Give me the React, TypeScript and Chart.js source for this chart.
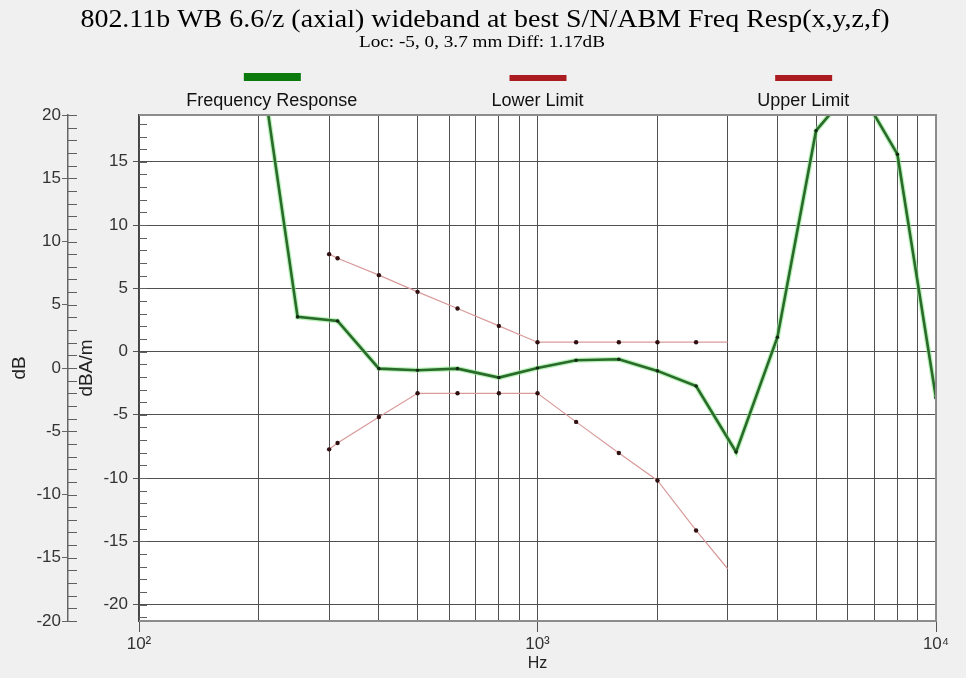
import { useEffect, useRef } from 'react';
import { Chart, registerables } from 'chart.js';

Chart.register(...registerables);

const TITLE = '802.11b WB 6.6/z (axial) wideband at best S/N/ABM Freq Resp(x,y,z,f)';
const SUBTITLE = 'Loc: -5, 0, 3.7 mm Diff: 1.17dB';
const SERIES_NAMES = ['Frequency Response', 'Lower Limit', 'Upper Limit'];
const SERIES_COLORS = ['#0b790b', '#ab1c22', '#ab1c22'];
const X_TITLE = 'Hz';
const Y_OUTER_TITLE = 'dB';
const Y_INNER_TITLE = 'dBA/m';

// Frequency response (dBA/m) at third-octave frequencies (Hz)
const responseFreqs = [200, 250, 315, 400, 500, 630, 800, 1000, 1250, 1600, 2000, 2500, 3150, 4000, 5000, 6300, 8000, 10000];
const responseValues = [23.8, 2.74, 2.42, -1.35, -1.48, -1.35, -2.06, -1.3, -0.69, -0.61, -1.53, -2.72, -7.94, 1.13, 17.46, 21.2, 15.6, -3.67];

// Limits (dBA/m)
const limitFreqs = [300, 315, 400, 500, 630, 800, 1000, 1250, 1600, 2000, 2500, 3000];
const lowerLimit = [-7.73, -7.23, -5.17, -3.3, -3.3, -3.3, -3.3, -5.56, -8.02, -10.19, -14.14, -17.17];
const upperLimit = [7.7, 7.38, 6.04, 4.72, 3.4, 2.03, 0.74, 0.74, 0.74, 0.74, 0.74, 0.74];

// Axes
const xGridTicks = [100, 200, 300, 400, 500, 600, 700, 800, 900, 1000, 2000, 3000, 4000, 5000, 6000, 7000, 8000, 9000, 10000];
const xMajorTicks = [100, 1000, 10000];
const xMajorLabels = ['10²', '10³', '10⁴'];
const X_MIN = 100;
const X_MAX = 10000;
const Y_OUTER_MIN = -20;
const Y_OUTER_MAX = 20;
const Y_INNER_MIN = -21.3;
const Y_INNER_MAX = 18.7;
const Y_MAJOR_STEP = 5;

const GRID = '#505050';
const SANS = '"Liberation Sans", Arial, sans-serif';
const SERIF = '"Liberation Serif", "Times New Roman", serif';
const TICK_FONT = { family: SANS, size: 17 };
const AXIS_TITLE_FONT = { family: SANS, size: 19 };

const toPoints = (xs: number[], ys: number[]) => xs.map((x, i) => ({ x, y: ys[i] }));

const intTicks = (min: number, max: number) => {
  const out: { value: number }[] = [];
  for (let v = Math.ceil(min); v <= Math.floor(max); v++) out.push({ value: v });
  return out;
};

const drawStretched = (ctx: CanvasRenderingContext2D, text: string, x: number, y: number, sx: number) => {
  ctx.save();
  ctx.translate(x, y);
  ctx.scale(sx, 1);
  ctx.fillText(text, 0, 0);
  ctx.restore();
};

const decorPlugin = {
  id: 'decor',
  beforeDraw(chart: any) {
    const { ctx, chartArea } = chart;
    ctx.save();
    ctx.fillStyle = '#ffffff';
    ctx.fillRect(chartArea.left, chartArea.top, chartArea.right - chartArea.left, chartArea.bottom - chartArea.top);
    ctx.restore();
  },
  afterDraw(chart: any) {
    const { ctx, chartArea } = chart;
    ctx.save();
    // titles
    ctx.fillStyle = '#000';
    ctx.textAlign = 'center';
    ctx.textBaseline = 'middle';
    ctx.font = '26px ' + SERIF;
    drawStretched(ctx, TITLE, 485, 20, 1.075);
    ctx.font = '16px ' + SERIF;
    drawStretched(ctx, SUBTITLE, 482, 43, 1.2);

    // legend: bar above text, evenly spaced thirds of the plot width
    const w = chartArea.right - chartArea.left;
    SERIES_NAMES.forEach((name, i) => {
      const x = chartArea.left + (w * (2 * i + 1)) / 6;
      ctx.fillStyle = SERIES_COLORS[i];
      if (i === 0) ctx.fillRect(x - 28, 73, 57, 8);
      else ctx.fillRect(x - 28, 75, 57, 6);
      ctx.fillStyle = '#111';
      ctx.font = '18px ' + SANS;
      ctx.fillText(name, x, 101);
    });

    // minor ticks
    ctx.strokeStyle = '#606060';
    ctx.lineWidth = 1;
    const yi = chart.scales.y;
    const yo = chart.scales.y2;
    ctx.beginPath();
    for (let v = Math.ceil(Y_INNER_MIN); v <= Math.floor(Y_INNER_MAX); v++) {
      const py = Math.round(yi.getPixelForValue(v)) + 0.5;
      ctx.moveTo(chartArea.left, py);
      ctx.lineTo(chartArea.left + 8, py);
    }
    for (let v = Y_OUTER_MIN; v <= Y_OUTER_MAX; v++) {
      const py = Math.round(yo.getPixelForValue(v)) + 0.5;
      ctx.moveTo(yo.right, py);
      ctx.lineTo(yo.right + 9, py);
    }
    ctx.stroke();

    // frame
    ctx.strokeStyle = '#8c8c8c';
    ctx.lineWidth = 2;
    ctx.beginPath();
    ctx.moveTo(chartArea.left, chartArea.top);
    ctx.lineTo(chartArea.right, chartArea.top);
    ctx.lineTo(chartArea.right, chartArea.bottom);
    ctx.lineTo(chartArea.left, chartArea.bottom);
    ctx.stroke();
    ctx.restore();
  },
};

export default function App() {
  const ref = useRef<HTMLCanvasElement | null>(null);

  useEffect(() => {
    if (!ref.current) return;
    const limitRadius = (c: any) => (c.dataIndex === limitFreqs.length - 1 ? 0 : 2.2);
    const chart = new Chart(ref.current, {
      type: 'line',
      data: {
        datasets: [
          {
            label: SERIES_NAMES[0],
            data: toPoints(responseFreqs, responseValues),
            borderColor: '#2a6a2a',
            borderWidth: 2.6,
            pointRadius: 1.8,
            pointBackgroundColor: '#142814',
            pointBorderWidth: 0,
            tension: 0,
            yAxisID: 'y',
            order: 0,
          },
          {
            label: SERIES_NAMES[1],
            data: toPoints(limitFreqs, lowerLimit),
            borderColor: '#d99a9a',
            borderWidth: 1.2,
            pointRadius: limitRadius,
            pointBackgroundColor: '#301010',
            pointBorderWidth: 0,
            tension: 0,
            yAxisID: 'y',
            order: 1,
          },
          {
            label: SERIES_NAMES[2],
            data: toPoints(limitFreqs, upperLimit),
            borderColor: '#d99a9a',
            borderWidth: 1.2,
            pointRadius: limitRadius,
            pointBackgroundColor: '#301010',
            pointBorderWidth: 0,
            tension: 0,
            yAxisID: 'y',
            order: 2,
          },
          {
            label: SERIES_NAMES[0] + ' halo',
            data: toPoints(responseFreqs, responseValues),
            borderColor: 'rgba(140, 235, 140, 0.6)',
            borderWidth: 5,
            pointRadius: 0,
            tension: 0,
            yAxisID: 'y',
            order: 10,
          },
        ],
      },
      options: {
        responsive: false,
        animation: false,
        events: [],
        layout: { padding: { top: 115, right: 30, bottom: 0, left: 0 } },
        plugins: {
          legend: { display: false },
          title: { display: false },
          tooltip: { enabled: false },
        },
        scales: {
          x: {
            type: 'logarithmic',
            min: X_MIN,
            max: X_MAX,
            afterBuildTicks: (s: any) => {
              s.ticks = xGridTicks.map((v) => ({ value: v }));
            },
            afterFit: (s: any) => {
              s.height = 57;
            },
            ticks: {
              autoSkip: false,
              maxRotation: 0,
              padding: 2,
              color: '#333',
              font: TICK_FONT,
              callback: (v: any) => {
                const k = xMajorTicks.indexOf(Number(v));
                return k >= 0 ? xMajorLabels[k] : '';
              },
            },
            grid: {
              color: GRID,
              lineWidth: 1,
              tickLength: 11,
              tickColor: (c: any) => (xMajorTicks.includes(c.tick?.value) ? '#555' : 'transparent'),
            },
            border: { display: false },
            title: {
              display: true,
              text: X_TITLE,
              color: '#222',
              font: { family: SANS, size: 16 },
              padding: { top: 0, bottom: 5 },
            },
          },
          y: {
            type: 'linear',
            position: 'left',
            weight: 0,
            min: Y_INNER_MIN,
            max: Y_INNER_MAX,
            afterBuildTicks: (s: any) => {
              s.ticks = intTicks(Y_INNER_MIN, Y_INNER_MAX);
            },
            afterFit: (s: any) => {
              s.width = 71;
            },
            ticks: {
              autoSkip: false,
              padding: 5,
              color: '#333',
              font: TICK_FONT,
              callback: (v: any) => (Number(v) % Y_MAJOR_STEP === 0 ? String(v) : ''),
            },
            grid: {
              color: (c: any) => (c.tick && c.tick.value % Y_MAJOR_STEP === 0 ? GRID : 'transparent'),
              tickColor: (c: any) => (c.tick && c.tick.value % Y_MAJOR_STEP === 0 ? '#555' : 'transparent'),
              tickLength: 6,
              lineWidth: 1,
            },
            border: { display: true, color: '#444', width: 1.5 },
            title: {
              display: true,
              text: Y_INNER_TITLE,
              color: '#222',
              font: AXIS_TITLE_FONT,
              padding: { top: 7, bottom: 0 },
            },
          },
          y2: {
            type: 'linear',
            position: 'left',
            weight: 10,
            min: Y_OUTER_MIN,
            max: Y_OUTER_MAX,
            afterBuildTicks: (s: any) => {
              s.ticks = intTicks(Y_OUTER_MIN, Y_OUTER_MAX).filter((t) => t.value % Y_MAJOR_STEP === 0);
            },
            afterFit: (s: any) => {
              s.width = 68;
            },
            ticks: {
              autoSkip: false,
              padding: 1,
              color: '#333',
              font: TICK_FONT,
            },
            grid: {
              drawOnChartArea: false,
              tickLength: 6,
              tickColor: '#666',
            },
            border: { display: true, color: '#666', width: 1.5 },
            title: {
              display: true,
              text: Y_OUTER_TITLE,
              color: '#222',
              font: AXIS_TITLE_FONT,
              padding: { top: 8, bottom: 0 },
            },
          },
        },
      } as any,
      plugins: [decorPlugin],
    });
    return () => chart.destroy();
  }, []);

  return (
    <div style={{ position: 'fixed', left: 0, top: 0, width: 966, height: 678, background: '#f0f0f0' }}>
      <canvas ref={ref} width={966} height={678} style={{ display: 'block', width: 966, height: 678 }} />
    </div>
  );
}
